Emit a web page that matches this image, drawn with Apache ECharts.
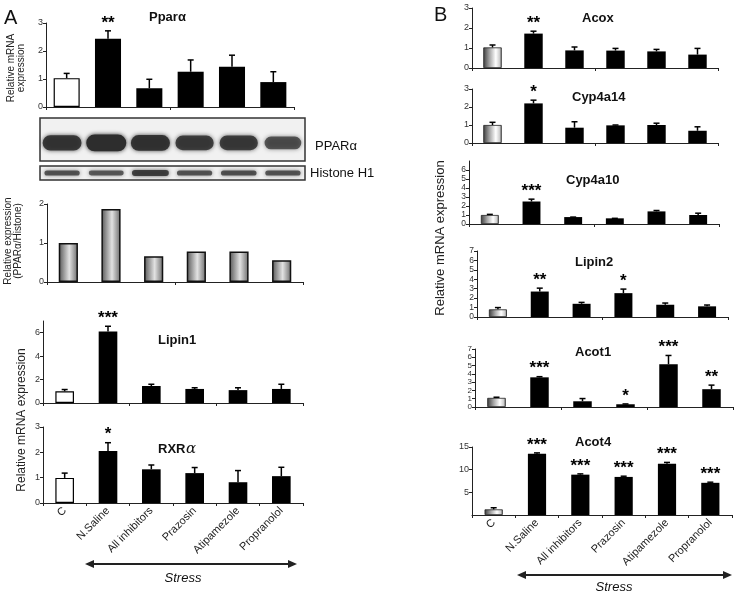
<!DOCTYPE html>
<html>
<head>
<meta charset="utf-8">
<script src="https://cdn.jsdelivr.net/npm/echarts@6.0.0/dist/echarts.min.js"></script>
<style>
  html, body { margin: 0; padding: 0; background: #fff; }
  #main { width: 747px; height: 594px; }
</style>
</head>
<body>
<div id="main"></div>
<script>
// categories shared by every panel
const categories = ['C', 'N.Saline', 'All inhibitors', 'Prazosin', 'Atipamezole', 'Propranolol'];

// panel A
const pparaMean = [1.03, 2.44, 0.67, 1.26, 1.44, 0.89];
const pparaErr = [1.2, 2.72, 0.99, 1.68, 1.85, 1.26];
const pparaSig = ['', '**', '', '', '', ''];
const blotPpara = [0.8, 1.0, 0.85, 0.7, 0.7, 0.45];     // band strength
const blotHistone = [0.55, 0.5, 0.8, 0.55, 0.6, 0.55];
const ratioValues = [1.0, 1.87, 0.66, 0.78, 0.78, 0.56];
const lipin1Mean = [1.0, 6.1, 1.45, 1.2, 1.1, 1.2];
const lipin1Err = [1.15, 6.55, 1.6, 1.3, 1.3, 1.6];
const lipin1Sig = ['', '***', '', '', '', ''];
const rxraMean = [0.99, 2.05, 1.33, 1.18, 0.82, 1.06];
const rxraErr = [1.18, 2.38, 1.5, 1.4, 1.28, 1.41];
const rxraSig = ['', '*', '', '', '', ''];

// panel B
const acoxMean = [1.03, 1.72, 0.88, 0.87, 0.83, 0.67];
const acoxErr = [1.15, 1.84, 1.05, 0.98, 0.93, 0.98];
const acoxSig = ['', '**', '', '', '', ''];
const cyp4a14Mean = [1.0, 2.2, 0.85, 0.98, 1.0, 0.68];
const cyp4a14Err = [1.15, 2.38, 1.18, 1.0, 1.1, 0.9];
const cyp4a14Sig = ['', '*', '', '', '', ''];
const cyp4a10Mean = [1.0, 2.5, 0.77, 0.63, 1.4, 1.0];
const cyp4a10Err = [1.07, 2.76, 0.77, 0.63, 1.5, 1.2];
const cyp4a10Sig = ['', '***', '', '', '', ''];
const lipin2Mean = [0.81, 2.7, 1.4, 2.53, 1.3, 1.13];
const lipin2Err = [1.0, 3.06, 1.55, 2.96, 1.48, 1.27];
const lipin2Sig = ['', '**', '', '*', '', ''];
const acot1Mean = [1.1, 3.58, 0.69, 0.33, 5.16, 2.15];
const acot1Err = [1.18, 3.66, 1.02, 0.37, 6.22, 2.64];
const acot1Sig = ['', '***', '', '*', '***', '**'];
const acot4Mean = [1.24, 13.5, 8.9, 8.4, 11.3, 7.1];
const acot4Err = [1.6, 13.7, 9.07, 8.56, 11.6, 7.24];
const acot4Sig = ['', '***', '***', '***', '***', '***'];

const FONT = 'Liberation Sans, Arial, sans-serif';
const chart = echarts.init(document.getElementById('main'));

const cylinder = {
  type: 'linear', x: 0, y: 0, x2: 1, y2: 0,
  colorStops: [
    { offset: 0, color: '#3c3c3c' },
    { offset: 0.35, color: '#a8a8a8' },
    { offset: 0.68, color: '#ffffff' },
    { offset: 0.88, color: '#cfcfcf' },
    { offset: 1, color: '#7a7a7a' }
  ]
};
const grayBar = {
  type: 'linear', x: 0, y: 0, x2: 1, y2: 0,
  colorStops: [
    { offset: 0, color: '#555' },
    { offset: 0.55, color: '#e2e2e2' },
    { offset: 1, color: '#6a6a6a' }
  ]
};

// bar panels (blots handled separately)
const panels = [
  { g: 0, box: [46, 23, 248, 84], max: 3, interval: 1, mean: pparaMean, err: pparaErr, sig: pparaSig, ctrl: 'white', bw: '63%' },
  { g: 3, box: [47, 204, 256, 78], max: 2, interval: 1, mean: ratioValues, ctrl: 'gray', bw: '45%' },
  { g: 4, box: [43, 321, 260, 82], max: 7, interval: 2, hideMax: true, mean: lipin1Mean, err: lipin1Err, sig: lipin1Sig, ctrl: 'white', bw: '43%' },
  { g: 5, box: [43, 427, 260, 76], max: 3, interval: 1, mean: rxraMean, err: rxraErr, sig: rxraSig, ctrl: 'white', bw: '43%', labels: true },
  { g: 6, box: [472, 8, 246, 60], max: 3, interval: 1, mean: acoxMean, err: acoxErr, sig: acoxSig, ctrl: 'cyl', bw: '45%' },
  { g: 7, box: [472, 89, 246, 54], max: 3, interval: 1, mean: cyp4a14Mean, err: cyp4a14Err, sig: cyp4a14Sig, ctrl: 'cyl', bw: '45%' },
  { g: 8, box: [469, 161, 250, 63], max: 7, interval: 1, hideMax: true, mean: cyp4a10Mean, err: cyp4a10Err, sig: cyp4a10Sig, ctrl: 'cyl', bw: '43%', fs: 8.5 },
  { g: 9, box: [477, 251, 251, 66], max: 7, interval: 1, mean: lipin2Mean, err: lipin2Err, sig: lipin2Sig, ctrl: 'cyl', bw: '43%', fs: 8.5 },
  { g: 10, box: [475, 349, 258, 58], max: 7, interval: 1, mean: acot1Mean, err: acot1Err, sig: acot1Sig, ctrl: 'cyl', bw: '43%', fs: 8 },
  { g: 11, box: [472, 447, 260, 68], max: 15, interval: 5, hideMin: true, mean: acot4Mean, err: acot4Err, sig: acot4Sig, ctrl: 'cyl', bw: '42%', labels: true }
];

const grids = [], xAxes = [], yAxes = [], series = [];
const axisColor = '#222';

// blot grids 1 and 2
const blots = [
  { g: 1, box: [40, 118, 265, 43], strength: blotPpara, y: 0.42, w: 34, h: 16, a: 0.5 },
  { g: 2, box: [40, 166, 265, 14], strength: blotHistone, y: 0.5, w: 32, h: 6, a: 0.45 }
];

const allBoxes = [];
panels.forEach(p => { allBoxes[p.g] = { kind: 'bar', p }; });
blots.forEach(b => { allBoxes[b.g] = { kind: 'blot', b }; });

allBoxes.forEach((entry, i) => {
  if (entry.kind === 'blot') {
    const b = entry.b;
    grids.push({ left: b.box[0], top: b.box[1], width: b.box[2], height: b.box[3], show: true,
      borderColor: '#333', borderWidth: 1.5, backgroundColor: '#f1f1f1' });
    xAxes.push({ type: 'category', gridIndex: i, data: categories, show: false });
    yAxes.push({ type: 'value', gridIndex: i, min: 0, max: 1, show: false });
    series.push({
      type: 'custom', xAxisIndex: i, yAxisIndex: i,
      data: categories.map(c => [c, b.y]),
      renderItem: (params, api) => {
        const s = b.strength[params.dataIndex];
        const c = api.coord([api.value(0), api.value(1)]);
        const w = b.w + 6 * s, h = b.h * (0.6 + 0.45 * s);
        const col = 'rgba(45,45,45,' + Math.min(1, b.a + 0.5 * s).toFixed(2) + ')';
        return {
          type: 'rect',
          shape: { x: c[0] - w / 2, y: c[1] - h / 2, width: w, height: h, r: h / 2 },
          style: { fill: col, shadowBlur: 4, shadowColor: col }
        };
      }
    });
    return;
  }
  const p = entry.p;
  grids.push({ left: p.box[0], top: p.box[1], width: p.box[2], height: p.box[3] });
  xAxes.push({
    type: 'category', gridIndex: i, data: categories,
    axisLine: { lineStyle: { color: axisColor, width: 1 } },
    axisTick: { show: true, length: 3, lineStyle: { color: axisColor } },
    axisLabel: p.labels
      ? { rotate: 45, fontSize: 11, color: '#222', margin: 6, fontFamily: FONT, interval: 0 }
      : { show: false }
  });
  yAxes.push({
    type: 'value', gridIndex: i, min: 0, max: p.max, interval: p.interval,
    splitLine: { show: false },
    axisLine: { show: true, lineStyle: { color: axisColor, width: 1 } },
    axisTick: { show: true, length: 3, lineStyle: { color: axisColor } },
    axisLabel: { fontSize: p.fs || 9, color: '#333', margin: 3, fontFamily: FONT, hideOverlap: false,
      lineHeight: 8, showMaxLabel: !p.hideMax, showMinLabel: !p.hideMin }
  });
  series.push({
    type: 'bar', xAxisIndex: i, yAxisIndex: i, barWidth: p.bw,
    itemStyle: { color: '#000' },
    data: p.mean.map((v, k) => {
      if (p.ctrl === 'gray') return { value: v, itemStyle: { color: grayBar, borderColor: '#111', borderWidth: 1.5 } };
      if (k !== 0) return v;
      if (p.ctrl === 'white') return { value: v, itemStyle: { color: '#fff', borderColor: '#000', borderWidth: 1.2 } };
      return { value: v, itemStyle: { color: cylinder, borderColor: '#222', borderWidth: 0.8 } };
    })
  });
  if (p.err) {
    series.push({
      type: 'custom', xAxisIndex: i, yAxisIndex: i, z: 5,
      data: categories.map((c, k) => [c, p.err[k]]),
      renderItem: (params, api) => {
        const k = params.dataIndex;
        const top = api.coord([api.value(0), api.value(1)]);
        const base = api.coord([api.value(0), p.mean[k]]);
        const children = [
          { type: 'line', shape: { x1: top[0], y1: base[1], x2: top[0], y2: top[1] }, style: { stroke: '#000', lineWidth: 1.5 } },
          { type: 'line', shape: { x1: top[0] - 3, y1: top[1], x2: top[0] + 3, y2: top[1] }, style: { stroke: '#000', lineWidth: 1.5 } }
        ];
        if (p.sig[k]) {
          children.push({ type: 'text', style: { text: p.sig[k], x: top[0], y: top[1] - 8,
            font: 'bold 17px ' + FONT, fill: '#000', textAlign: 'center', textVerticalAlign: 'middle' } });
        }
        return { type: 'group', children };
      }
    });
  }
});

function txt(text, x, y, font, extra) {
  return { type: 'text', style: Object.assign({ text, x, y, font, fill: '#111', textVerticalAlign: 'middle' }, extra || {}) };
}
// vertical labels read bottom-to-top
function vtxt(text, x, y, font) {
  return { type: 'text', x, y, rotation: Math.PI / 2,
    style: { text, x: 0, y: 0, font, fill: '#222', textAlign: 'center', textVerticalAlign: 'middle', lineHeight: 10 } };
}
function arrow(x1, x2, y) {
  return [
    { type: 'line', shape: { x1: x1 + 4, y1: y, x2: x2 - 4, y2: y }, style: { stroke: '#222', lineWidth: 2 } },
    { type: 'polygon', shape: { points: [[x1, y], [x1 + 9, y - 4], [x1 + 9, y + 4]] }, style: { fill: '#222' } },
    { type: 'polygon', shape: { points: [[x2, y], [x2 - 9, y - 4], [x2 - 9, y + 4]] }, style: { fill: '#222' } }
  ];
}

const B13 = 'bold 13px ' + FONT;
const graphic = [
  txt('A', 4, 18, '20px ' + FONT),
  txt('B', 434, 15, '20px ' + FONT),
  txt('Pparα', 149, 17, B13),
  txt('PPARα', 315, 146, '13px ' + FONT),
  txt('Histone H1', 310, 173, '13px ' + FONT),
  txt('Lipin1', 158, 340, B13),
  txt('RXR', 158, 449, B13),
  txt('α', 186, 449, 'italic 15px DejaVu Serif, serif'),
  txt('Acox', 582, 18, B13),
  txt('Cyp4a14', 572, 97, B13),
  txt('Cyp4a10', 566, 180, B13),
  txt('Lipin2', 575, 262, B13),
  txt('Acot1', 575, 352, B13),
  txt('Acot4', 575, 442, B13),
  vtxt('Relative mRNA\nexpression', 16, 68, '10px ' + FONT),
  vtxt('Relative expression\n(PPARα/Histone)', 13, 241, '10px ' + FONT),
  vtxt('Relative mRNA expression', 22, 420, '12px ' + FONT),
  vtxt('Relative mRNA expression', 440, 238, '13px ' + FONT),
  ...arrow(85, 297, 564),
  txt('Stress', 183, 578, 'italic 13px ' + FONT, { textAlign: 'center' }),
  ...arrow(517, 732, 575),
  txt('Stress', 614, 587, 'italic 13px ' + FONT, { textAlign: 'center' })
];

chart.setOption({
  animation: false,
  backgroundColor: '#fff',
  grid: grids,
  xAxis: xAxes,
  yAxis: yAxes,
  series,
  graphic
});
</script>
</body>
</html>
